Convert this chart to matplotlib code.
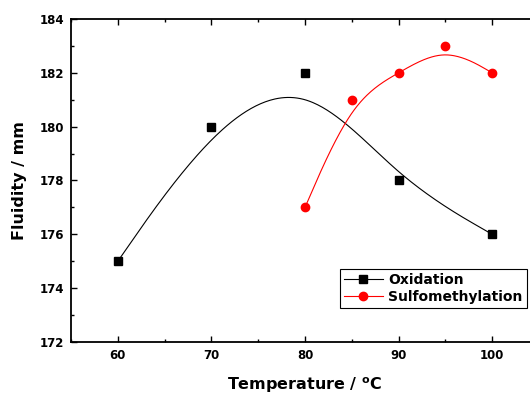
import numpy as np
import matplotlib
matplotlib.use("Agg")
import matplotlib.pyplot as plt
from matplotlib.ticker import MultipleLocator

# data
ox_temp = [60, 70, 80, 90, 100]
ox_fluid = [175, 180, 182, 178, 176]
sm_temp = [80, 85, 90, 95, 100]
sm_fluid = [177, 181, 182, 183, 182]


def bspline(xs, ys, n=60):
    # uniform cubic B-spline, end points repeated so the curve hits them
    P = np.column_stack([xs, ys]).astype(float)
    P = np.vstack([P[:1], P[:1], P, P[-1:], P[-1:]])
    M = np.array([[-1, 3, -3, 1], [3, -6, 3, 0], [-3, 0, 3, 0], [1, 4, 1, 0]]) / 6.0
    t = np.linspace(0, 1, n)
    T = np.column_stack([t**3, t**2, t, np.ones_like(t)])
    c = np.vstack([T @ M @ P[i:i + 4] for i in range(len(P) - 3)])
    return c[:, 0], c[:, 1]


plt.rcParams['font.family'] = 'DejaVu Sans'
plt.rcParams['font.weight'] = 'bold'

fig = plt.figure(figsize=(5.3, 3.94), dpi=100)
ax = fig.add_axes([71 / 530, 1 - 342 / 394, 468 / 530, 323 / 394])

cx, cy = bspline(ox_temp, ox_fluid)
ax.plot(cx, cy, color='black', lw=0.8)
cx, cy = bspline(sm_temp, sm_fluid)
ax.plot(cx, cy, color='red', lw=0.8)
ax.plot(ox_temp, ox_fluid, 's', color='black', ms=5.5, ls='none')
ax.plot(sm_temp, sm_fluid, 'o', color='red', ms=6, ls='none')

# legend handles
ax.plot([], [], 's-', color='black', ms=5.5, lw=0.8, label='Oxidation')
ax.plot([], [], 'o-', color='red', ms=6, lw=0.8, label='Sulfomethylation')

ax.set_xlim(55, 105)
ax.set_ylim(172, 184)
ax.xaxis.set_major_locator(MultipleLocator(10))
ax.xaxis.set_minor_locator(MultipleLocator(5))
ax.yaxis.set_major_locator(MultipleLocator(2))
ax.yaxis.set_minor_locator(MultipleLocator(1))
ax.tick_params(which='both', direction='in', top=True, right=True, width=1.0,
               labelsize=8.5, pad=5)
ax.tick_params(which='major', length=4.5)
ax.tick_params(which='minor', length=2.5)
for s in ax.spines.values():
    s.set_linewidth(1.3)

ax.set_xlabel(r'Temperature / $\mathbf{^{o}}$C', fontsize=11.5, fontweight='bold', labelpad=10)
ax.set_ylabel('Fluidity / mm', fontsize=11.5, fontweight='bold', labelpad=9)

leg = ax.legend(loc='lower right', bbox_to_anchor=(0.974, 0.105), fontsize=10,
                frameon=True, fancybox=False, edgecolor='black', framealpha=1,
                numpoints=1, handlelength=2.8, handletextpad=0.4,
                labelspacing=0.2, borderpad=0.3, borderaxespad=0)
leg.get_frame().set_linewidth(0.8)

fig.savefig('out.png', dpi=100)
